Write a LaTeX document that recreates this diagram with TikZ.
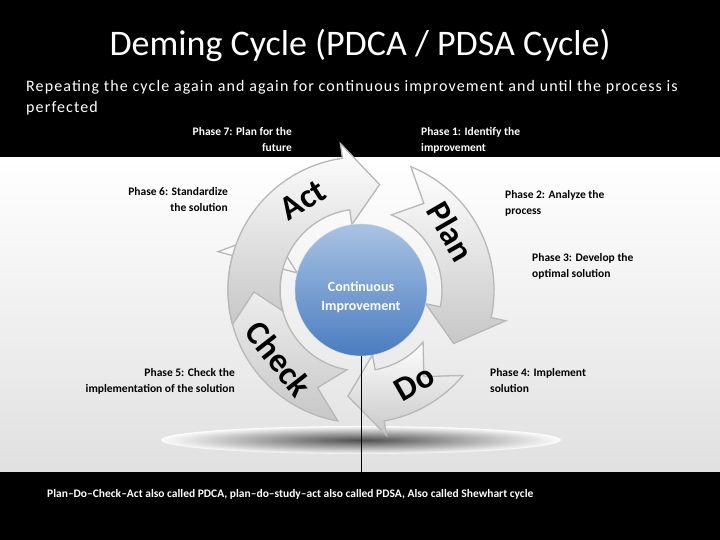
\documentclass[tikz,border=0pt]{standalone}
\usepackage{fontspec}
\setmainfont{Carlito}
\newfontfamily\spaced[LetterSpace=7]{Carlito}
\usetikzlibrary{shadings,calc}
\definecolor{ctop}{HTML}{A9C3E3}
\definecolor{cbot}{HTML}{4A7CC0}
\begin{document}
\begin{tikzpicture}[x=1pt,y=1pt,
  lbl/.style={font=\fontsize{11.5}{16}\selectfont\bfseries, align=left, inner sep=0},
  big/.style={font=\fontsize{34}{34}\selectfont\bfseries, text=black, inner sep=0}]
\useasboundingbox (0,0) rectangle (720,540);
\fill[black] (0,0) rectangle (720,540);
\shade[top color=white,bottom color=black!12] (0,68) rectangle (720,382);
\node[text=white, font=\fontsize{36}{40}\selectfont] (title) at (360,495) {Deming Cycle (PDCA / PDSA Cycle)};
\node[text=white, font=\spaced\fontsize{16}{21}\selectfont, align=left, anchor=north west, inner sep=0] (sub) at (26,460) {Repeating the cycle again and again for continuous improvement and until the process is\\perfected};
% shadow
\shade[inner color=black!75, outer color=white, opacity=0.9] (361,100) ellipse (200 and 14);
\coordinate (C) at (361,250);
\def\arr#1#2#3{%
 \filldraw[shift={(C)}, draw=black!28, line width=1.3pt, top color=white, bottom color=black!22]
  (#1:133) arc[start angle=#1,end angle=#2,radius=133] -- (#2:148) -- (#3:107) -- (#2:66) -- (#2:81)
  arc[start angle=#2,end angle=#1,radius=81] -- (#1-14:107) -- cycle;}
\arr{-100}{-195}{-213}
\arr{-40}{-80}{-97}
\arr{68}{-12}{-30}
\arr{195}{98}{80}
\draw[black] (361,68) -- (361,185);
\shade[top color=ctop, bottom color=cbot, draw=black!15] (C) circle (66);
\node[text=white, font=\fontsize{14}{19}\selectfont\bfseries, align=center] (ci) at (361,243) {Continuous\\Improvement};
\node[big, rotate=32] (act) at ($(C)+(123:107)$) {Act};
\node[big, rotate=-60] (plan) at ($(C)+(33:107)$) {Plan};
\node[big, rotate=30] (do) at ($(C)+(-60:107)$) {Do};
\node[big, rotate=-52] (chk) at ($(C)+(-140:107)$) {Check};
\node[lbl, text=white, align=right, anchor=north east] (p7) at (292,413) {Phase 7: Plan for the\\future};
\node[lbl, text=white, anchor=north west] (p1) at (421,413) {Phase 1: Identify the\\improvement};
\node[lbl, align=right, anchor=north east] (p6) at (228,353) {Phase 6: Standardize\\the solution};
\node[lbl, anchor=north west] (p2) at (505,350) {Phase 2: Analyze the\\process};
\node[lbl, anchor=north west] (p3) at (532,287) {Phase 3: Develop the\\optimal solution};
\node[lbl, anchor=north west] (p4) at (490,172) {Phase 4: Implement\\solution};
\node[lbl, align=right, anchor=north east] (p5) at (235,172) {Phase 5: Check the\\implementation of the solution};
\node[lbl, text=white, anchor=west] (foot) at (47,46) {Plan–Do–Check–Act also called PDCA, plan–do–study–act also called PDSA, Also called Shewhart cycle};
\end{tikzpicture}
\end{document}
